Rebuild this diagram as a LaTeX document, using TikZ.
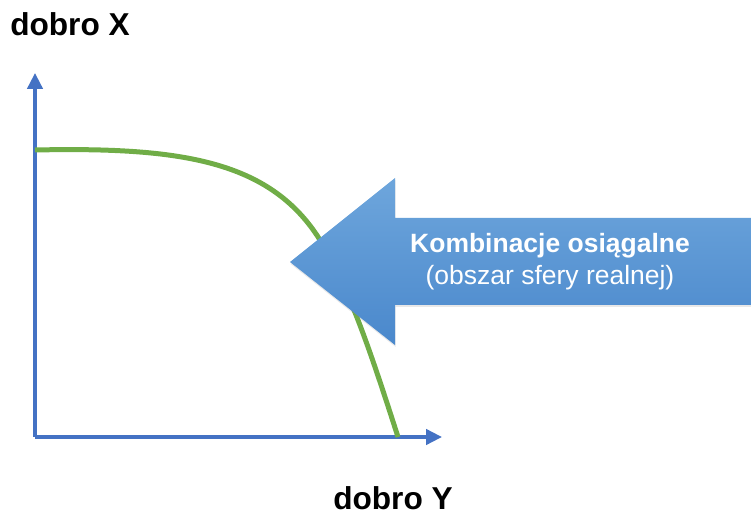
\documentclass[tikz,border=0pt]{standalone}
\usepackage{fontspec}
\setmainfont{Liberation Sans}
\usepackage{tikz}
\usetikzlibrary{arrows.meta,shadows}

\definecolor{axisblue}{HTML}{4472C4}
\definecolor{curvegreen}{HTML}{70AD47}
\definecolor{arrowtop}{HTML}{6EA6DC}
\definecolor{arrowbot}{HTML}{4A88CC}

\begin{document}
\begin{tikzpicture}[x=0.03cm,y=-0.03cm]
		\tikzstyle{axis}=[axisblue,line width=3.5*0.853pt,-{Triangle[length=0.48cm,width=0.46cm]}]
		\tikzstyle{frontier}=[curvegreen,line width=5*0.853pt]
		\tikzstyle{axislabel}=[font=\bfseries\fontsize{27}{32}\selectfont,inner sep=0pt]
		\tikzstyle{bigarrow}=[top color=arrowtop,bottom color=arrowbot,
		drop shadow={shadow xshift=0.02cm,shadow yshift=-0.06cm,opacity=0.18}]
		
		\useasboundingbox (0,0) rectangle (751,515);
		
		%% axes
		\coordinate (O) at (35,437);
		\coordinate (ytop) at (35,73);
		\coordinate (xend) at (442,437);
		\draw[axis] (O) -- (ytop);
		\draw[axis] (O) -- (xend);
		
		%% production possibility curve
		\coordinate (c0) at (35,150);
		\coordinate (c1) at (320,240);
		\coordinate (c2) at (398,437);
		\draw[frontier] (c0) .. controls (180,147) and (270,160) .. (c1)
		  .. controls (350,290) and (370,350) .. (c2);
		
		%% labels
		\node[axislabel] (lblx) at (70,24) {dobro X};
		\node[axislabel] (lbly) at (393,498) {dobro Y};
		
		%% big arrow
		\path[bigarrow] (290,262) -- (395,178) -- (395,218) -- (760,218)
		  -- (760,305) -- (395,305) -- (395,345) -- cycle;
		\node[white,align=center,inner sep=0pt,font=\fontsize{22.6}{27.5}\selectfont]
		  (reach) at (550,262) {\textbf{Kombinacje osiągalne}\\(obszar sfery realnej)};
		
\end{tikzpicture}
\end{document}
